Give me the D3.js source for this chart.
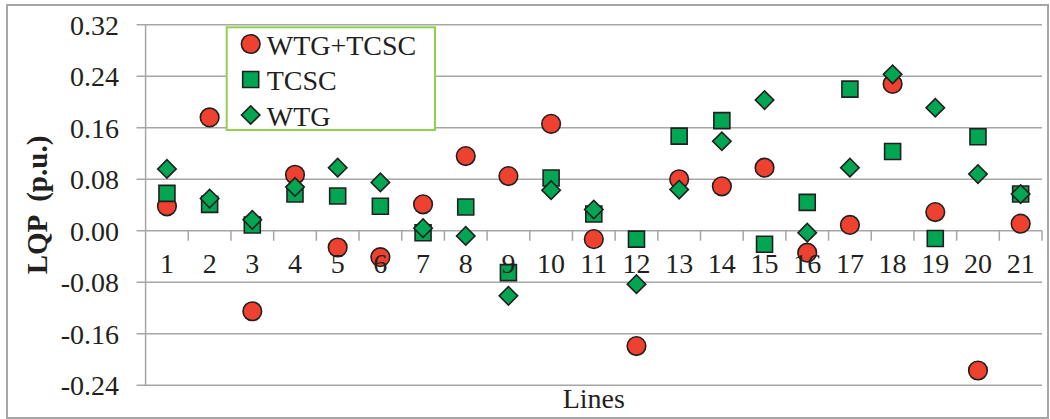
<!DOCTYPE html>
<html>
<head>
<meta charset="utf-8">
<script src="https://cdn.jsdelivr.net/npm/d3@7"></script>
<style>
  body { margin: 0; background: #fff; }
  svg text { font-family: "Liberation Serif", "Times New Roman", serif; fill: #231f20; }
</style>
</head>
<body>
<script>
// line numbers 1..21
var lines = d3.range(1, 22).map(String);

// LQP values (p.u.)
var wtgTcsc = [0.038, 0.176, -0.125, 0.087, -0.026, -0.041, 0.041, 0.116, 0.085, 0.166, -0.013,
               -0.179, 0.080, 0.069, 0.098, -0.034, 0.009, 0.228, 0.029, -0.217, 0.011];
var tcsc    = [0.058, 0.041, 0.009, 0.057, 0.054, 0.038, -0.003, 0.037, -0.065, 0.082, 0.026,
               -0.013, 0.147, 0.171, -0.021, 0.044, 0.220, 0.123, -0.012, 0.146, 0.057];
var wtg     = [0.096, 0.050, 0.017, 0.068, 0.098, 0.075, 0.004, -0.008, -0.101, 0.063, 0.033,
               -0.083, 0.064, 0.139, 0.203, -0.003, 0.098, 0.243, 0.191, 0.088, 0.057];

var yTicks = [-0.24, -0.16, -0.08, 0.00, 0.08, 0.16, 0.24, 0.32];

var legendNames = ["WTG+TCSC", "TCSC", "WTG"];

(function () {

var width = 1050, height = 419;
var pLeft = 145.6, pRight = 1042, pTop = 24.7, pBottom = 385.3;
var red = "#ef4130", green = "#00a651", ink = "#231f20", grid = "#a6a6a6";

var svg = d3.select("body").append("svg")
  .attr("width", width)
  .attr("height", height);

// outer frame
svg.append("rect")
  .attr("x", 7).attr("y", 5)
  .attr("width", 1041).attr("height", 413)
  .attr("fill", "none")
  .attr("stroke", grid)
  .attr("stroke-width", 2);

var x = d3.scaleBand().domain(lines).range([pLeft, pRight]);
var y = d3.scaleLinear().domain([-0.24, 0.32]).range([pBottom, pTop]);

// gridlines + y ticks
svg.append("g")
  .selectAll("line")
  .data(yTicks)
  .enter().append("line")
  .attr("x1", pLeft - 9)
  .attr("x2", pRight)
  .attr("y1", function(d) { return y(d) })
  .attr("y2", function(d) { return y(d) })
  .attr("stroke", grid)
  .attr("stroke-width", 1.5);

svg.append("line")
  .attr("x1", pLeft).attr("x2", pLeft)
  .attr("y1", pTop).attr("y2", pBottom)
  .attr("stroke", grid)
  .attr("stroke-width", 1.5);

// plain hyphen for negatives, like the original
var fmt = function(d) { return d.toFixed(2) };

svg.append("g")
  .selectAll("text")
  .data(yTicks)
  .enter().append("text")
  .attr("x", 119)
  .attr("y", function(d) { return y(d) })
  .attr("dy", "0.35em")
  .attr("text-anchor", "end")
  .style("font-size", "28px")
  .text(fmt);

// x axis ticks on zero line
var bounds = lines.map(function(d) { return x(d) }).concat([pRight]);
svg.append("g")
  .selectAll("line")
  .data(bounds.slice(1))
  .enter().append("line")
  .attr("x1", function(d) { return d })
  .attr("x2", function(d) { return d })
  .attr("y1", y(0))
  .attr("y2", y(0) + 10)
  .attr("stroke", grid)
  .attr("stroke-width", 1.5);

function series(vals) {
  return vals.map(function(v, i) { return { line: lines[i], v: v } });
}
function cx(d) { return x(d.line) + x.bandwidth() / 2 }

var circleSym = d3.symbol(d3.symbolCircle, 272)();
var squareSym = d3.symbol(d3.symbolSquare, 256)();
var diamondSym = d3.symbol(d3.symbolSquare, 170)();

function drawMarks(data, path, fill, rot) {
  svg.append("g")
    .selectAll("path")
    .data(data)
    .enter().append("path")
    .attr("d", path)
    .attr("transform", function(d) {
      return "translate(" + cx(d) + " " + y(d.v) + ")" + (rot ? " rotate(45)" : "");
    })
    .attr("fill", fill)
    .attr("stroke", ink)
    .attr("stroke-width", 1.6);
}

drawMarks(series(wtgTcsc), circleSym, red, false);
drawMarks(series(tcsc), squareSym, green, false);
drawMarks(series(wtg), diamondSym, green, true);

// category labels
svg.append("g")
  .selectAll("text")
  .data(lines)
  .enter().append("text")
  .attr("x", function(d) { return x(d) + x.bandwidth() / 2 })
  .attr("y", 273)
  .attr("text-anchor", "middle")
  .style("font-size", "28px")
  .text(function(d) { return d });

// axis titles
svg.append("text")
  .attr("x", (pLeft + pRight) / 2)
  .attr("y", 408)
  .attr("text-anchor", "middle")
  .style("font-size", "28px")
  .text("Lines");

svg.append("text")
  .attr("transform", "translate(47 " + ((pTop + pBottom) / 2) + ") rotate(-90)")
  .attr("text-anchor", "middle")
  .style("font-size", "29px")
  .style("font-weight", "bold")
  .style("white-space", "pre")
  .text("LQP  (p.u.)");

// legend
var legendSyms = [circleSym, squareSym, diamondSym];
var legendFills = [red, green, green];

var legend = svg.append("g");
legend.append("rect")
  .attr("x", 226.7).attr("y", 27.3)
  .attr("width", 208.3).attr("height", 102.7)
  .attr("fill", "#fff")
  .attr("stroke", "#92d050")
  .attr("stroke-width", 2);

var items = legend.selectAll("g.item")
  .data(legendNames)
  .enter().append("g")
  .attr("class", "item")
  .attr("transform", function(d, i) { return "translate(250.7 " + (44 + i * 35.5) + ")" });

items.append("path")
  .attr("d", function(d, i) { return legendSyms[i] })
  .attr("transform", function(d, i) { return i == 2 ? "rotate(45)" : "" })
  .attr("fill", function(d, i) { return legendFills[i] })
  .attr("stroke", ink)
  .attr("stroke-width", 1.6);

items.append("text")
  .attr("x", 16)
  .attr("y", 10.5)
  .style("font-size", "28px")
  .text(function(d) { return d });

}());
</script>
</body>
</html>
